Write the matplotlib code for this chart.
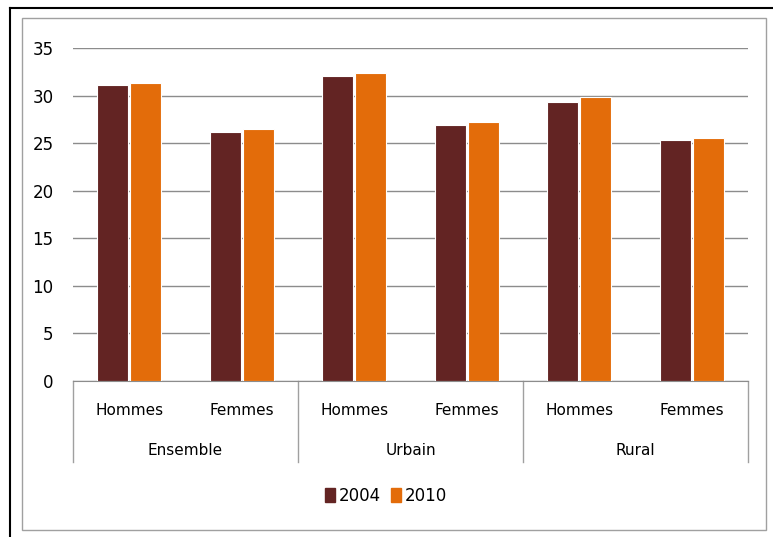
import numpy as np
import matplotlib.pyplot as plt
from matplotlib.patches import Rectangle, Patch
from matplotlib.lines import Line2D

plt.rcParams['font.family'] = ['Liberation Sans Narrow', 'DejaVu Sans']

groups = ['Ensemble', 'Urbain', 'Rural']
sexes = ['Hommes', 'Femmes']
years = ['2004', '2010']
v2004 = [31.1, 26.2, 32.1, 26.9, 29.3, 25.3]
v2010 = [31.3, 26.5, 32.4, 27.2, 29.9, 25.5]
colors = ['#632423', '#E36C0A']

W, H = 773, 537
fig = plt.figure(figsize=(W / 100, H / 100), dpi=100)

# outer frame like the pasted excel chart
fig.add_artist(Rectangle((22 / W, 1 - 530 / H), (766 - 22) / W, (530 - 18) / H,
                         transform=fig.transFigure, fill=False, ec='#a0a0a0', lw=1))
fig.add_artist(Line2D([10 / W, 10 / W], [0, 1 - 8 / H], transform=fig.transFigure, color='black', lw=1.5))
fig.add_artist(Line2D([10 / W, 1], [1 - 8 / H, 1 - 8 / H], transform=fig.transFigure, color='black', lw=1.5))

ax = fig.add_axes([73 / W, 1 - 381 / H, 675 / W, 333 / H])
x = np.arange(len(v2004))
bw = 0.275
ax.bar(x - bw / 2 - 0.01, v2004, bw, color=colors[0], edgecolor='white', lw=0.8, zorder=3)
ax.bar(x + bw / 2 + 0.01, v2010, bw, color=colors[1], edgecolor='white', lw=0.8, zorder=3)

ax.set_xlim(-0.5, len(x) - 0.5)
ax.set_ylim(0, 35)
ax.set_yticks(range(0, 36, 5))
ax.yaxis.grid(True, color='#8c8c8c', lw=1)
ax.set_axisbelow(True)
for s in ['top', 'right', 'left']:
    ax.spines[s].set_visible(False)
ax.spines['bottom'].set_color('#8c8c8c')
ax.tick_params(axis='y', length=0, labelsize=12, pad=14)
ax.tick_params(axis='x', length=0)
ax.set_xticks([])

# two-level category axis
trans = ax.get_xaxis_transform()
for i in range(len(x)):
    ax.text(x[i], -0.09, sexes[i % 2], transform=trans, ha='center', va='center', fontsize=11)
for g, name in enumerate(groups):
    ax.text(2 * g + 0.5, -0.21, name, transform=trans, ha='center', va='center', fontsize=11)
for sep in [-0.5, 1.5, 3.5, 5.5]:
    ax.plot([sep, sep], [0, -0.243], transform=trans, color='#a0a0a0', lw=1, clip_on=False)

handles = [Patch(color=c) for c in colors]
fig.legend(handles, years, loc='center', bbox_to_anchor=(386 / W, 1 - 496 / H), ncol=2,
           frameon=False, fontsize=12, handlelength=0.6, handleheight=0.9,
           handletextpad=0.2, columnspacing=0.6)

fig.savefig('out.png', dpi=100)
